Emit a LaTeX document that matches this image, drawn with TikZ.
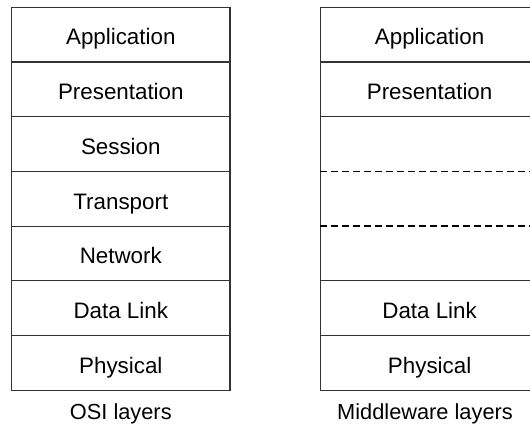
\documentclass[tikz,border=0pt]{standalone}
\usepackage{fontspec}
\setmainfont{Liberation Sans}
\usepackage{tikz}
\usetikzlibrary{positioning}
\usetikzlibrary{calc}

\tikzset{
  layer/.style={draw=black!80,line width=0.8pt,outer sep=0pt,inner sep=0pt,
    minimum width=5.4575cm,minimum height=1.3675cm,
    text height=17pt,text depth=2.4pt,
    font=\fontsize{15.9}{19}\selectfont},
  gapbox/.style={layer,minimum height=4.1025cm},
  splitline/.style={black,line width=1pt,dash pattern=on 5pt off 2.8pt},
  caption/.style={inner sep=0pt,anchor=base,
    font=\fontsize{15.5}{19}\selectfont}
}

\begin{document}
\begin{tikzpicture}[x=0.025cm,y=-0.025cm]
\clip (0,0) rectangle (530,423);
% OSI stack
\node[layer] (osi7) at (120.8,34.65) {Application};
\node[layer,below=0pt of osi7] (osi6) {Presentation};
\node[layer,below=0pt of osi6] (osi5) {Session};
\node[layer,below=0pt of osi5] (osi4) {Transport};
\node[layer,below=0pt of osi4] (osi3) {Network};
\node[layer,below=0pt of osi3] (osi2) {Data Link};
\node[layer,below=0pt of osi2] (osi1) {Physical};
\node[caption] (osilabel) at ($(osi1.south)+(0,29)$) {OSI layers};
% middleware stack
\node[layer] (mw7) at (429.6,34.65) {Application};
\node[layer,below=0pt of mw7] (mw6) {Presentation};
\node[gapbox,below=0pt of mw6] (mwgap) {};
\node[layer,below=0pt of mwgap] (mw2) {Data Link};
\node[layer,below=0pt of mw2] (mw1) {Physical};
\draw[splitline] ($(mwgap.north west)!1/3!(mwgap.south west)$) -- ($(mwgap.north east)!1/3!(mwgap.south east)$);
\draw[splitline] ($(mwgap.north west)!2/3!(mwgap.south west)$) -- ($(mwgap.north east)!2/3!(mwgap.south east)$);
\node[caption] (mwlabel) at (425,419) {Middleware layers};
\end{tikzpicture}
\end{document}
